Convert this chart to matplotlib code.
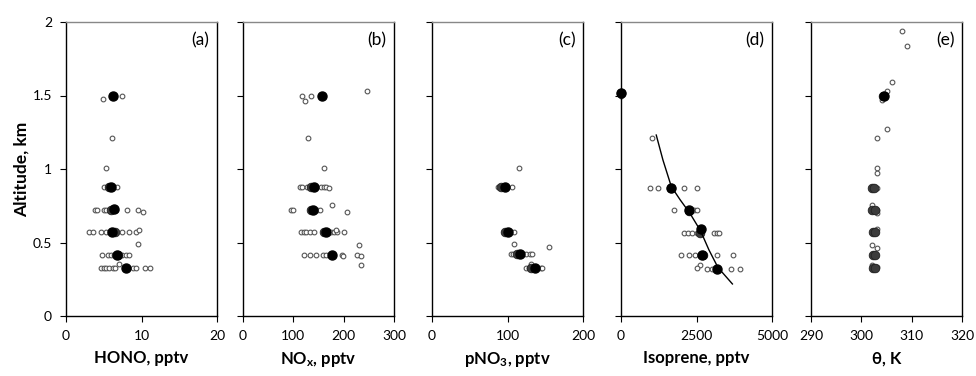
import matplotlib
matplotlib.use('Agg')
import matplotlib.pyplot as plt
from matplotlib.ticker import FormatStrFormatter

plt.rcParams['font.family'] = ['Lato', 'DejaVu Sans']
plt.rcParams['mathtext.fontset'] = 'custom'
plt.rcParams['mathtext.rm'] = 'Lato'
plt.rcParams['mathtext.bf'] = 'Lato:bold'
plt.rcParams['mathtext.it'] = 'Lato:italic'

# (a) HONO, pptv
hono_x = [4.9, 7.4, 6.15, 5.3, 5.0, 5.6, 6.7,
          3.8, 4.1, 5.0, 5.3, 6.0, 6.6, 8.1, 9.5, 10.2,
          3.0, 3.6, 4.6, 5.3, 5.8, 7.4, 8.4, 9.3, 9.7, 9.5,
          4.8, 5.5, 6.0, 6.4, 7.1, 7.4, 7.9, 8.4, 7.0,
          4.7, 5.0, 5.3, 5.75, 6.2, 6.5, 8.9, 9.3, 10.5, 11.1]
hono_alt = [1.474, 1.5, 1.21, 1.01, 0.88, 0.88, 0.88,
            0.72, 0.72, 0.72, 0.72, 0.72, 0.72, 0.72, 0.72, 0.71,
            0.57, 0.57, 0.57, 0.57, 0.57, 0.57, 0.57, 0.57, 0.585, 0.488,
            0.417, 0.417, 0.417, 0.417, 0.417, 0.417, 0.417, 0.417, 0.354,
            0.327, 0.327, 0.327, 0.327, 0.327, 0.327, 0.327, 0.327, 0.327, 0.327]
hono_mean_x = [6.2, 5.9, 6.3, 6.1, 6.7, 8.0]
hono_mean_alt = [1.5, 0.88, 0.726, 0.57, 0.417, 0.327]
hono_grey_x = [5.7, 6.0, 6.5, 6.9]
hono_grey_alt = [0.88, 0.72, 0.57, 0.417]

# (b) NOx, pptv
nox_x = [118, 124, 135, 246, 130, 161,
         113, 118, 128, 133, 155, 160, 165, 170, 176,
         95, 100, 143, 148, 152, 206,
         116, 121, 126, 134, 142, 158, 171, 174, 181, 186, 200, 184, 230,
         122, 134, 146, 159, 165, 196, 198, 227, 235, 234]
nox_alt = [1.5, 1.465, 1.5, 1.53, 1.21, 1.005,
           0.876, 0.876, 0.876, 0.876, 0.876, 0.876, 0.876, 0.87, 0.753,
           0.72, 0.72, 0.72, 0.72, 0.72, 0.705,
           0.57, 0.57, 0.57, 0.57, 0.57, 0.57, 0.57, 0.57, 0.57, 0.57, 0.57, 0.585, 0.48,
           0.415, 0.415, 0.415, 0.415, 0.415, 0.415, 0.41, 0.415, 0.41, 0.347]
nox_mean_x = [156, 141, 139, 165, 177]
nox_mean_alt = [1.5, 0.876, 0.72, 0.57, 0.415]
nox_grey_x = [136, 135, 160]
nox_grey_alt = [0.876, 0.72, 0.57]

# (c) pNO3, pptv
pno3_x = [115, 88, 91, 95, 106, 95, 98, 109, 108.5, 155,
          104, 107, 112, 124, 129.5, 132, 131,
          125, 128, 133, 139, 144, 146]
pno3_alt = [1.01, 0.88, 0.88, 0.88, 0.88, 0.57, 0.57, 0.57, 0.488, 0.467,
            0.42, 0.42, 0.42, 0.42, 0.42, 0.42, 0.354,
            0.325, 0.325, 0.325, 0.325, 0.325, 0.325]
pno3_mean_x = [97, 100.5, 117, 136]
pno3_mean_alt = [0.88, 0.57, 0.42, 0.325]
pno3_grey_x = [92, 97, 113, 131]
pno3_grey_alt = [0.88, 0.57, 0.42, 0.325]

# (d) Isoprene, pptv
iso_x = [0, 1022, 967, 1222, 2078, 2500,
         1744, 2300, 2411, 2522,
         2078, 2211, 2356, 2522, 3078, 3167, 3256,
         1989, 2256, 2444, 3189, 3711, 2600, 2522,
         2833, 3022, 3633, 3944]
iso_alt = [1.5, 1.21, 0.873, 0.873, 0.873, 0.873,
           0.72, 0.72, 0.72, 0.72,
           0.565, 0.565, 0.565, 0.565, 0.565, 0.565, 0.565,
           0.415, 0.415, 0.415, 0.415, 0.415, 0.347, 0.325,
           0.322, 0.322, 0.322, 0.322]
iso_mean_x = [0, 1655, 2267, 2633, 2678, 3189]
iso_mean_alt = [1.52, 0.873, 0.72, 0.59, 0.415, 0.322]
iso_grey_x = [0, 1640, 2250, 2620, 2700]
iso_grey_alt = [1.52, 0.873, 0.715, 0.565, 0.415]
# fitted curve, points
iso_fit_x = [1167, 1389, 1667, 1960, 2278, 2633, 2911, 3211, 3689]
iso_fit_alt = [1.231, 1.061, 0.88, 0.79, 0.70, 0.58, 0.45, 0.33, 0.218]

# (e) potential temperature, K
theta_x = [308.0, 309.0, 306.1, 305.1, 304.1, 305.1, 303.1, 303.1, 303.1,
           303.1, 302.1, 303.1, 303.1, 303.2, 302.1, 303.1, 302.1, 303.1]
theta_alt = [1.94, 1.84, 1.59, 1.53, 1.47, 1.27, 1.21, 1.01, 0.975,
             0.873, 0.755, 0.70, 0.59, 0.72, 0.483, 0.465, 0.345, 0.33]
theta_mean_x = [304.5]
theta_mean_alt = [1.5]
theta_grey_x = [302.1, 302.5, 302.2, 302.8, 302.3, 302.7, 302.3, 302.8, 302.3, 302.8, 304.3]
theta_grey_alt = [0.873, 0.873, 0.72, 0.72, 0.57, 0.57, 0.415, 0.415, 0.325, 0.325, 1.5]

panels = [
    (hono_x, hono_alt, hono_mean_x, hono_mean_alt, hono_grey_x, hono_grey_alt,
     (0, 20), [0, 10, 20], 'HONO, pptv', '(a)'),
    (nox_x, nox_alt, nox_mean_x, nox_mean_alt, nox_grey_x, nox_grey_alt,
     (0, 300), [0, 100, 200, 300], r'NO$_{\mathbf{x}}$, pptv', '(b)'),
    (pno3_x, pno3_alt, pno3_mean_x, pno3_mean_alt, pno3_grey_x, pno3_grey_alt,
     (0, 200), [0, 100, 200], r'pNO$_{\mathbf{3}}$, pptv', '(c)'),
    (iso_x, iso_alt, iso_mean_x, iso_mean_alt, iso_grey_x, iso_grey_alt,
     (0, 5000), [0, 2500, 5000], 'Isoprene, pptv', '(d)'),
    (theta_x, theta_alt, theta_mean_x, theta_mean_alt, theta_grey_x, theta_grey_alt,
     (290, 320), [290, 300, 310, 320], 'θ, K', '(e)'),
]

fig = plt.figure(figsize=(9.76, 3.76), dpi=100)
lefts = [66, 243, 432, 621, 811]
for i, (px, py, mx, my, gx, gy, xlim, xt, xlabel, tag) in enumerate(panels):
    ax = fig.add_axes([lefts[i] / 976, 1 - 316 / 376, 151 / 976, 294 / 376])
    ax.plot(px, py, 'o', ms=3.4, mfc='white', mec='#555555', mew=0.8, ls='none',
            clip_on=False)
    ax.plot(gx, gy, 'o', ms=6.2, mfc='#3c3c3c', mec='#222222', mew=0.6, ls='none',
            clip_on=False)
    ax.plot(mx, my, 'o', ms=6.5, mfc='black', mec='black', ls='none', clip_on=False)
    if i == 3:
        ax.plot(iso_fit_x, iso_fit_alt, color='black', lw=1)
    ax.set_xlim(*xlim)
    ax.set_ylim(0, 2)
    ax.set_xticks(xt)
    ax.set_yticks([0, 0.5, 1, 1.5, 2])
    ax.yaxis.set_major_formatter(FormatStrFormatter('%g'))
    ax.tick_params(direction='out', length=4, width=0.8, labelsize=10, pad=6)
    if i > 0:
        ax.set_yticklabels([])
    else:
        ax.set_ylabel('Altitude, km', fontsize=12.5, fontweight='bold', labelpad=2)
    ax.set_xlabel(xlabel, fontsize=12, fontweight='bold', labelpad=6)
    for s in ax.spines.values():
        s.set_linewidth(1.0)
    ax.spines['top'].set_color('#888888')
    ax.text(0.95, 0.965, tag, transform=ax.transAxes, ha='right', va='top', fontsize=12.5)

fig.savefig('out.png', dpi=100)
